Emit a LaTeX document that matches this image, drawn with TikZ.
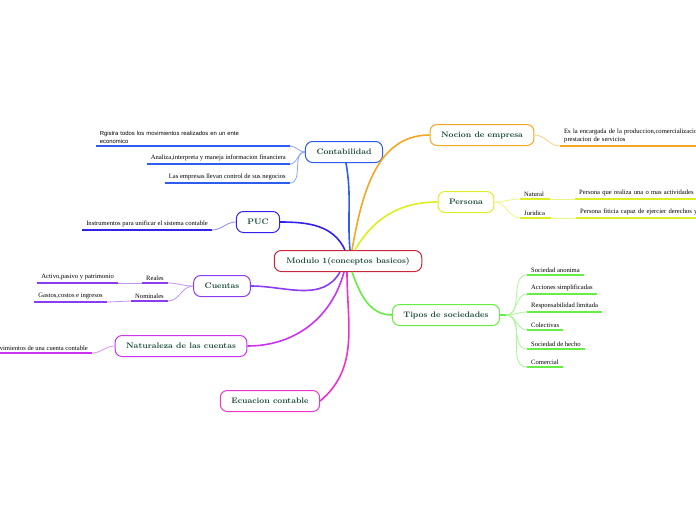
\documentclass[tikz,border=0pt]{standalone}
\usepackage{fontspec}
\usepackage{tikz}
\usetikzlibrary{arrows.meta,positioning,calc}
\newfontfamily\leafserif{Liberation Serif}
\newfontfamily\leafsans{Liberation Sans}
\definecolor{txt}{HTML}{1A4A3A}
\definecolor{cred}{HTML}{C8283C}
\definecolor{cblue}{HTML}{2F5CF0}
\definecolor{cindigo}{HTML}{3322EE}
\definecolor{cpurple}{HTML}{8A3CF0}
\definecolor{cviolet}{HTML}{CC33EE}
\definecolor{cmagenta}{HTML}{EE33CC}
\definecolor{corange}{HTML}{F5A623}
\definecolor{cyellow}{HTML}{DDEE22}
\definecolor{cgreen}{HTML}{66EE44}
\begin{document}
\begin{tikzpicture}[x=1pt,y=-1pt,
  topic/.style={draw=#1, line width=1pt, fill=white, rounded corners=7pt, minimum height=21pt,
    inner xsep=11pt, text=txt, font=\fontsize{8}{9}\selectfont\bfseries},
  leaf/.style={inner xsep=4pt, inner ysep=2.5pt, text=black, align=left, font=\fontsize{6.6}{8}\leafserif},
  ul/.style={draw=#1, line width=1.8pt},
  link/.style={draw=#1, line width=1.6pt},
  twig/.style={draw=#1!55, line width=0.8pt},
]
\clip (0,0) rectangle (696,520);
% main topics
\node[topic=cred, inner xsep=12pt] (mod) at (348,261) {Modulo 1(conceptos basicos)};
\node[topic=cblue] (cont) at (344,152) {Contabilidad};
\node[topic=cindigo] (puc) at (258,222) {PUC};
\node[topic=cpurple] (cue) at (222,286) {Cuentas};
\node[topic=cviolet] (nat) at (181,346) {Naturaleza de las cuentas};
\node[topic=cmagenta] (ecu) at (270,401) {Ecuacion contable};
\node[topic=corange] (noc) at (482,135) {Nocion de empresa};
\node[topic=cyellow] (per) at (466,202) {Persona};
\node[topic=cgreen] (tip) at (446,315) {Tipos de sociedades};

\draw[link=cblue] ([xshift=2pt]mod.north) to[out=95,in=-80] ([xshift=2pt]cont.south);
\draw[link=cindigo] ([xshift=-3pt]mod.north) to[out=115,in=0] (puc.east);
\draw[link=cpurple] ([xshift=-8pt]mod.south) to[out=-120,in=0] (cue.east);
\draw[link=cviolet] ([xshift=-4pt]mod.south) to[out=-105,in=0] (nat.east);
\draw[link=cmagenta] ([xshift=-1pt]mod.south) to[out=-90,in=40] (ecu.east);
\draw[link=corange] ([xshift=4pt]mod.north) to[out=80,in=180] (noc.west);
\draw[link=cyellow] ([xshift=7pt]mod.north) to[out=60,in=180] (per.west);
\draw[link=cgreen] ([xshift=4pt]mod.south) to[out=-70,in=180] (tip.west);

% Contabilidad
\node[leaf, anchor=south east, text width=186pt, font=\fontsize{5.9}{8}\leafsans] (c1) at (290,146) {Rgistra todos los movimientos realizados en un ente\\economico};
\node[leaf, anchor=south east] (c2) at (290,164) {Analiza,interpreta y maneja informacion financiera};
\node[leaf, anchor=south east] (c3) at (290,183) {Las empresas llevan control de sus negocios};
\foreach \l in {c1,c2,c3} {
  \draw[ul=cblue] (\l.south west) -- (\l.south east);
  \draw[twig=cblue] (cont.west) to[out=180,in=0] (\l.south east);
}

% PUC
\node[leaf, anchor=south east] (p1) at (212,230) {Instrumentos para unificar el sistema contable};
\draw[ul=cindigo] (p1.south west) -- (p1.south east);
\draw[twig=cindigo] (puc.west) to[out=180,in=0] (p1.south east);

% Cuentas
\node[leaf, anchor=south east] (r1) at (168,283) {Reales};
\node[leaf, anchor=south east] (r2) at (118,283) {Activo,pasivo y patrimonio};
\node[leaf, anchor=south east] (n1) at (168,301) {Nominales};
\node[leaf, anchor=south east] (n2) at (107,302) {Gastos,costos e ingresos};
\foreach \l in {r1,r2,n1,n2} \draw[ul=cpurple] (\l.south west) -- (\l.south east);
\draw[twig=cpurple] (cue.west) to[out=180,in=0] (r1.south east);
\draw[twig=cpurple] (cue.west) to[out=180,in=0] (n1.south east);
\draw[twig=cpurple] (r1.south west) -- (r2.south east);
\draw[twig=cpurple] (n1.south west) -- (n2.south east);

% Naturaleza de las cuentas
\node[leaf, anchor=south east] (m1) at (92,353) {movimientos de una cuenta contable};
\draw[ul=cviolet] (m1.south west) -- (m1.south east);
\draw[twig=cviolet] (nat.west) to[out=180,in=0] (m1.south east);

% Nocion de empresa
\node[leaf, anchor=south west, text width=200pt] (e1) at (560,146) {Es la encargada de la produccion,comercializacion\\prestacion de servicios};
\draw[ul=corange] (e1.south west) -- (e1.south east);
\draw[twig=corange] (noc.east) to[out=0,in=180] (e1.south west);

% Persona
\node[leaf, anchor=south west] (pn) at (520,199) {Natural\hspace{0.3em}};
\node[leaf, anchor=south west, text width=160pt] (pn2) at (575,199) {Persona que realiza una o mas actividades};
\node[leaf, anchor=south west] (pj) at (520,218) {Juridica\hspace{0.3em}};
\node[leaf, anchor=south west, text width=160pt] (pj2) at (576,218) {Persona fiticia capaz de ejercier derechos y};
\foreach \l in {pn,pn2,pj,pj2} \draw[ul=cyellow] (\l.south west) -- (\l.south east);
\draw[twig=cyellow] (per.east) to[out=0,in=180] (pn.south west);
\draw[twig=cyellow] (per.east) to[out=0,in=180] (pj.south west);
\draw[twig=cyellow] (pn.south east) -- (pn2.south west);
\draw[twig=cyellow] (pj.south east) -- (pj2.south west);

% Tipos de sociedades
\coordinate (tfork) at ([xshift=6pt]tip.east);
\draw[link=cgreen] (tip.east) -- (tfork);
\foreach \n/\t/\y in {s1/Sociedad anonima/275, s2/Acciones simplificadas/294, s3/Responsabilidad limitada/312,
  s4/Colectivas/330, s5/Sociedad de hecho/349, s6/Comercial/367} {
  \node[leaf, anchor=south west] (\n) at (527,\y) {\t};
  \draw[ul=cgreen] (\n.south west) -- (\n.south east);
  \draw[twig=cgreen] (tfork) to[out=0,in=180] (\n.south west);
}
\end{tikzpicture}
\end{document}
